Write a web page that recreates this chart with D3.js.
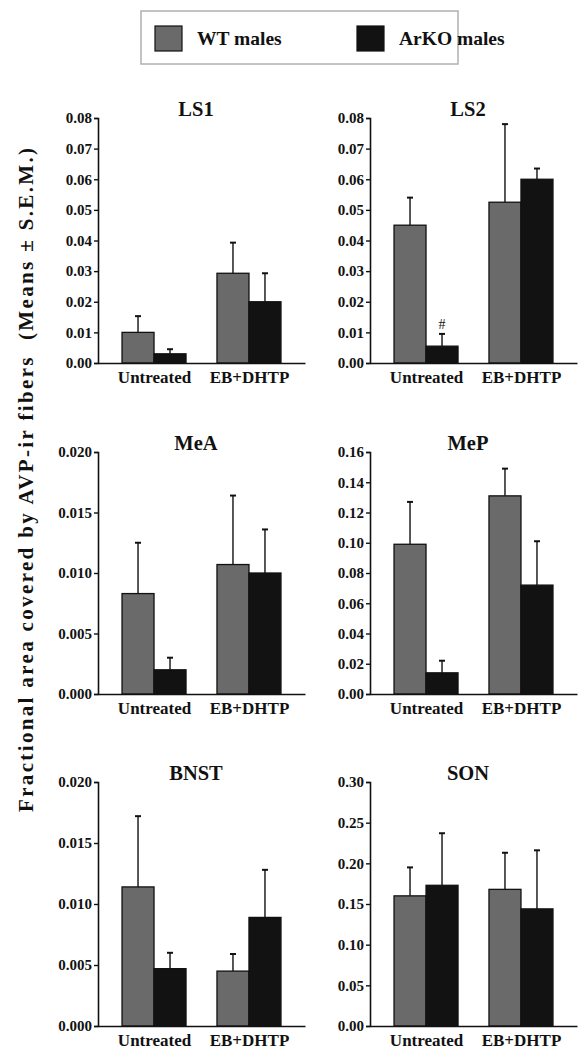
<!DOCTYPE html>
<html>
<head>
<meta charset="utf-8">
<script src="https://cdn.jsdelivr.net/npm/d3@7"></script>
<style>
  html, body { margin: 0; padding: 0; background: #fff; }
  svg { display: block; }
  svg text { font-family: "Liberation Serif", "Times New Roman", serif !important; font-weight: bold; fill: #111; }
</style>
</head>
<body>
<svg id="chart" width="581" height="1050"></svg>
<script>
// ---------------- DATA ----------------
const panels = ["LS1", "LS2", "MeA", "MeP", "BNST", "SON"];
const groups = ["Untreated", "EB+DHTP"];
const series = ["WT males", "ArKO males"];

// means per panel: [Untreated, EB+DHTP]
const wtMean  = [[0.0100, 0.0293], [0.0450, 0.0525], [0.0083, 0.0107], [0.099, 0.131], [0.0114, 0.0045], [0.160, 0.168]];
const wtErr   = [[0.0053, 0.0100], [0.0090, 0.0255], [0.0042, 0.0057], [0.028, 0.018], [0.0058, 0.0014], [0.035, 0.045]];
const koMean  = [[0.0030, 0.0200], [0.0055, 0.0600], [0.0020, 0.0100], [0.014, 0.072], [0.0047, 0.0089], [0.173, 0.144]];
const koErr   = [[0.0015, 0.0093], [0.0040, 0.0035], [0.0010, 0.0036], [0.008, 0.029], [0.0013, 0.0039], [0.064, 0.072]];

// y axis domain max and tick step per panel
const yMax    = [0.08, 0.08, 0.020, 0.16, 0.020, 0.30];
const yStep   = [0.01, 0.01, 0.005, 0.02, 0.005, 0.05];
const yFormat = [".2f", ".2f", ".3f", ".2f", ".3f", ".2f"];

// significance marks: [panel, group, series, symbol]
const marks = [["LS2", "Untreated", "ArKO males", "#"]];

const yLabel = "Fractional area covered by AVP-ir fibers\u00a0\u00a0(Means \u00b1 S.E.M.)";

// ---------------- LAYOUT ----------------
const colX = [98, 370];              // y-axis x position per column
const axisLen = 207;                 // x axis length
const rowY = [[118, 363], [452, 694], [782, 1026]]; // [top, bottom] per row
const barW = 32;
const colors = { "WT males": "#6a6a6a", "ArKO males": "#121212" };

const svg = d3.select("#chart");

// Legend
const legend = svg.append("g");
legend.append("rect").attr("x", 141).attr("y", 11).attr("width", 317).attr("height", 53)
  .attr("fill", "none").attr("stroke", "#b0b0b0").attr("stroke-width", 1.5);
const legX = [155, 357];
series.forEach((s, i) => {
  legend.append("rect").attr("x", legX[i]).attr("y", 26).attr("width", 27).attr("height", 25)
    .attr("fill", colors[s]).attr("stroke", "#111").attr("stroke-width", 1.2);
  legend.append("text").attr("x", legX[i] + 42).attr("y", 45).style("font-size", "19.5px").text(s);
});

// Y label
svg.append("text")
  .attr("transform", "translate(33,480) rotate(-90)")
  .attr("text-anchor", "middle").style("font-size", "21px")
  .attr("textLength", 664).attr("lengthAdjust", "spacing")
  .text(yLabel);

panels.forEach((name, p) => {
  const col = p % 2, row = Math.floor(p / 2);
  const x0 = colX[col];
  const [top, bottom] = rowY[row];
  const g = svg.append("g");

  const y = d3.scaleLinear().domain([0, yMax[p]]).range([bottom, top]);
  const x = d3.scalePoint().domain(groups).range([x0, x0 + axisLen]).padding(0.59);
  const xs = d3.scaleBand().domain(series).range([-barW, barW]);

  const ticks = d3.range(0, yMax[p] + yStep[p] / 2, yStep[p]);
  const yAxis = d3.axisLeft(y).tickValues(ticks).tickFormat(d3.format(yFormat[p])).tickSize(4).tickPadding(2);
  const ya = g.append("g").attr("transform", `translate(${x0},0)`).call(yAxis);
  ya.attr("font-family", null).attr("font-size", null);
  ya.select(".domain").attr("stroke", "#111").attr("stroke-width", 1.6);
  ya.selectAll(".tick line").attr("stroke", "#111").attr("stroke-width", 1.4);
  ya.selectAll(".tick text").style("font-size", "15px").attr("fill", "#111");

  // Bars
  groups.forEach((grp, gi) => {
    series.forEach((s, si) => {
      const mean = si === 0 ? wtMean[p][gi] : koMean[p][gi];
      const err = si === 0 ? wtErr[p][gi] : koErr[p][gi];
      const bx = x(grp) + xs(s);
      const cx = bx + barW / 2;
      // error bar
      g.append("line").attr("x1", cx).attr("x2", cx).attr("y1", y(mean)).attr("y2", y(mean + err))
        .attr("stroke", "#111").attr("stroke-width", 1.4);
      g.append("line").attr("x1", cx - 3).attr("x2", cx + 3).attr("y1", y(mean + err)).attr("y2", y(mean + err))
        .attr("stroke", "#111").attr("stroke-width", 2);
      g.append("rect").attr("x", bx).attr("y", y(mean)).attr("width", barW).attr("height", y(0) - y(mean))
        .attr("fill", colors[s]).attr("stroke", "#111").attr("stroke-width", 1.3);
      marks.filter(m => m[0] === name && m[1] === grp && m[2] === s).forEach(m => {
        g.append("text").attr("x", cx).attr("y", y(mean + err) - 5).attr("text-anchor", "middle")
          .style("font-size", "14px").style("font-weight", "normal").text(m[3]);
      });
    });
  });

  // X axis
  const xa = g.append("g").attr("transform", `translate(0,${bottom})`)
    .call(d3.axisBottom(x).tickSize(0).tickPadding(6));
  xa.attr("font-family", null).attr("font-size", null);
  xa.select(".domain").attr("stroke", "#111").attr("stroke-width", 1.6);
  xa.selectAll(".tick text").style("font-size", "17px").attr("fill", "#111").attr("dy", "0.85em");

  // Title
  g.append("text").attr("x", x0 + 98).attr("y", top - 2).attr("text-anchor", "middle")
    .style("font-size", "20.5px").text(name);
});
</script>
</body>
</html>
